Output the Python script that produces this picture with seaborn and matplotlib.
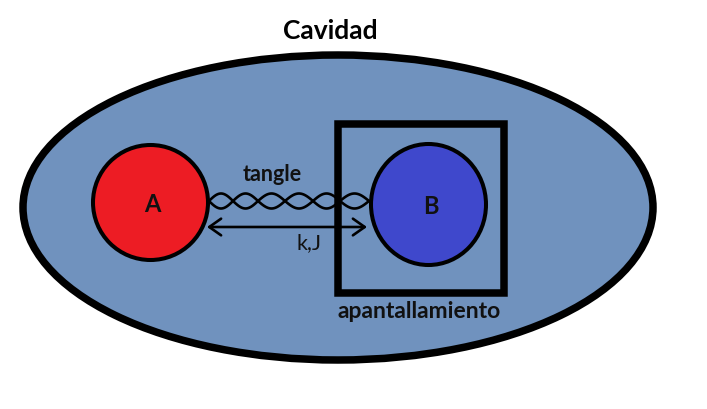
"""Cavidad diagram: two particles A and B, B inside a shield."""

import matplotlib.pyplot as plt
import matplotlib.patches as mpatches
import seaborn as sns
import numpy as np
import pandas as pd

sns.set_theme(style='white')
plt.rcParams['font.family'] = ['Lato', 'DejaVu Sans']

# labels
title = 'Cavidad'
particle_labels = ['A', 'B']
particle_colors = ['#ed1c24', '#3f48cc']
link_label = 'tangle'
coupling_label = 'k,J'
shield_label = 'apantallamiento'

# shapes (pixels, y down)
cavity = dict(cx=338, cy=208.5, w=630, h=305)
particles_cx = [150.5, 428.5]
particles_cy = [203.5, 205.5]
particles_w = [115, 115]
particles_h = [115, 121]
shield = dict(x0=338, y0=125, x1=504, y1=294)

# tangle strand crossing points (x) and the band it sits in
tangle_crossings = [209, 233, 258, 285, 313, 340, 369]
tangle_y = 202
tangle_amp = 7.5

arrow_x = [207, 367]
arrow_y = 228

W, H = 707, 410
fig = plt.figure(figsize=(W / 100, H / 100), dpi=100)
ax = fig.add_axes([0, 0, 1, 1])

ax.add_patch(mpatches.Ellipse((cavity['cx'], cavity['cy']), cavity['w'], cavity['h'],
                              facecolor='#7092be', edgecolor='black', lw=5.4, zorder=1))
ax.text(330, 31, title, ha='center', va='center', fontsize=19, fontweight='bold',
        color='black', zorder=5)

# shield box
ax.add_patch(mpatches.Rectangle((shield['x0'], shield['y0']),
                                shield['x1'] - shield['x0'], shield['y1'] - shield['y0'],
                                facecolor='none', edgecolor='black', lw=5.4, zorder=4))
ax.text((shield['x0'] + shield['x1']) / 2 - 2, 312, shield_label, ha='center', va='center',
        fontsize=16.5, fontweight='bold', color='#111111', zorder=5)

# tangle: two strands crossing at the given points
rows = []
for i in range(len(tangle_crossings) - 1):
    xa, xb = tangle_crossings[i], tangle_crossings[i + 1]
    t = np.linspace(0, 1, 25)
    bump = np.sin(np.pi * t) * tangle_amp * (1 if i % 2 == 0 else -1)
    for strand, sgn in (('s1', 1), ('s2', -1)):
        for tx, b in zip(xa + (xb - xa) * t, bump):
            rows.append(dict(strand=strand, seg=i, x=tx, y=tangle_y + sgn * b))
tangle = pd.DataFrame(rows)
tangle['key'] = tangle['strand'] + tangle['seg'].astype(str)
sns.lineplot(data=tangle, x='x', y='y', units='key', estimator=None, sort=False,
             color='black', lw=1.9, ax=ax, zorder=3, legend=False)
ax.text(272, 175, link_label, ha='center', va='center', fontsize=15.5, fontweight='bold',
        color='#111111', zorder=5)

# coupling arrow
ax.annotate('', xy=(arrow_x[1], arrow_y), xytext=(arrow_x[0], arrow_y),
            arrowprops=dict(arrowstyle='<->,head_length=0.85,head_width=0.6',
                            mutation_scale=10, color='black', lw=1.9,
                            shrinkA=0, shrinkB=0), zorder=3)
ax.text(309, 243, coupling_label, ha='center', va='center', fontsize=15.5,
        color='#111111', zorder=5)

# particles
for lab, col, cx, cy, w, h in zip(particle_labels, particle_colors, particles_cx,
                                  particles_cy, particles_w, particles_h):
    ax.add_patch(mpatches.Ellipse((cx, cy), w, h, facecolor=col, edgecolor='black',
                                  lw=2.9, zorder=6))
    ax.text(cx + 2, cy + 1, lab, ha='center', va='center', fontsize=17,
            fontweight='bold', color='#111111', zorder=7)

ax.set_xlim(0, W)
ax.set_ylim(H, 0)
ax.set_aspect('equal')
ax.axis('off')

fig.savefig('out.png', dpi=100)
plt.close(fig)
